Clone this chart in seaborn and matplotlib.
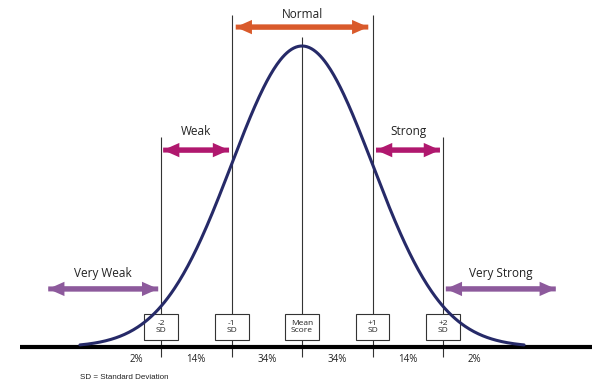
import numpy as np
import pandas as pd
import matplotlib
matplotlib.use("Agg")
import matplotlib.pyplot as plt
from matplotlib.patches import Rectangle
import seaborn as sns

# chart data (standard-deviation units)
sd_marks = [-2, -1, 0, 1, 2]
sd_box_labels = ["-2\nSD", "-1\nSD", "Mean\nScore", "+1\nSD", "+2\nSD"]
line_tops = [0.278, 0.440, 0.411, 0.440, 0.278]
pct_labels = ["2%", "14%", "34%", "34%", "14%", "2%"]
pct_pos = [-2.35, -1.5, -0.5, 0.5, 1.5, 2.45]
bands = ["Very Weak", "Weak", "Normal", "Strong", "Very Strong"]
band_from = [-3.6, -1.97, -0.94, 1.05, 2.04]
band_to = [-2.04, -1.035, 0.94, 1.957, 3.6]
band_y = [0.077, 0.261, 0.424, 0.261, 0.077]
band_text_y = [0.097, 0.285, 0.441, 0.285, 0.097]
band_colors = ["#8d5a9c", "#b0186e", "#d95a2b", "#b0186e", "#8d5a9c"]
curve_range = 3.15

x = np.linspace(-curve_range, curve_range, 400)
curve = pd.DataFrame({"sd": x, "density": np.exp(-x ** 2 / 2) / np.sqrt(2 * np.pi)})

sns.set_theme(style="white")
plt.rcParams["font.family"] = ["Open Sans", "DejaVu Sans"]

fig = plt.figure(figsize=(6, 3.84), dpi=100)
ax = fig.add_axes([0, 0, 1, 1])
ax.set_xlim(-4.284, 4.227)
ax.set_ylim(-0.049, 0.4599)
ax.axis("off")

# baseline
ax.hlines(0, -4.0, 4.11, color="black", lw=3, zorder=2)

# vertical sd lines
ax.vlines(sd_marks, -0.013, line_tops, color="#333333", lw=0.8, zorder=1)

# curve
sns.lineplot(data=curve, x="sd", y="density", ax=ax, color="#262a68", lw=2.2, zorder=4)

# boxes
bw, bh, by = 0.482, 0.0345, 0.0265
for m, lab in zip(sd_marks, sd_box_labels):
    ax.add_patch(Rectangle((m - bw / 2, by - bh / 2), bw, bh, facecolor="white",
                           edgecolor="#333333", lw=0.8, zorder=3))
    ax.text(m, by, lab, ha="center", va="center", multialignment="center",
            fontsize=6, linespacing=1.1, color="#222222", zorder=5)

# percentages
for p, lab in zip(pct_pos, pct_labels):
    ax.text(p, -0.016, lab, ha="center", va="center", fontsize=7, color="#222222")

# band arrows (two full-length arrows, one head each, so no seam)
hw, hl, sw = 0.019, 0.23, 0.0066
for name, a, b, y, ty, c in zip(bands, band_from, band_to, band_y, band_text_y, band_colors):
    ax.arrow(a, y, b - a, 0, width=sw, head_width=hw, head_length=hl,
             length_includes_head=True, color=c, lw=0, zorder=5)
    ax.arrow(b, y, a - b, 0, width=sw, head_width=hw, head_length=hl,
             length_includes_head=True, color=c, lw=0, zorder=5)
    ax.text((a + b) / 2, ty, name, ha="center", va="center", fontsize=8.5, color="#222222")

ax.text(-3.15, -0.040, "SD = Standard Deviation", ha="left", va="center",
        fontsize=5.8, family=["Liberation Sans", "DejaVu Sans"], color="#222222")

fig.savefig("out.png", dpi=100, facecolor="white")
